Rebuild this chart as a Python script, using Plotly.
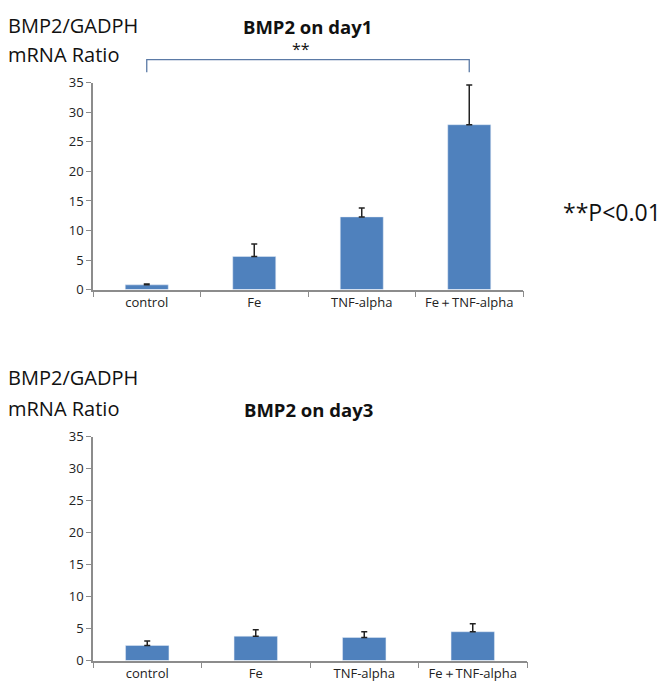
import plotly.graph_objects as go

categories = ["control", "Fe", "TNF-alpha", "Fe＋TNF-alpha"]
day1_values = [0.8, 5.6, 12.3, 27.9]
day1_errors = [0.15, 2.1, 1.5, 6.7]
day3_values = [2.35, 3.8, 3.6, 4.5]
day3_errors = [0.7, 1.0, 0.9, 1.25]
y_ticks = [0, 5, 10, 15, 20, 25, 30, 35]

W, H = 666, 700
BAR = "#4f81bd"
AXIS = "#8c8c8c"
FONT = "Open Sans"

def px_x(p):
    return p / W

def px_y(p):
    return 1 - p / H

fig = go.Figure()
fig.add_trace(go.Bar(x=categories, y=day1_values, marker_color=BAR, width=0.4,
                     error_y=dict(type="data", array=day1_errors, arrayminus=[0]*4, symmetric=False,
                                  color="#222222", thickness=1.5, width=3),
                     xaxis="x", yaxis="y", showlegend=False))
fig.add_trace(go.Bar(x=categories, y=day3_values, marker_color=BAR, width=0.4,
                     error_y=dict(type="data", array=day3_errors, arrayminus=[0]*4, symmetric=False,
                                  color="#222222", thickness=1.5, width=3),
                     xaxis="x2", yaxis="y2", showlegend=False))

xcommon = dict(type="category", showline=True, linecolor=AXIS, linewidth=1.5, ticks="outside",
               tickson="boundaries", ticklen=6, tickcolor=AXIS, showgrid=False,
               tickfont=dict(family=FONT, size=13, color="#222"), zeroline=False)
ycommon = dict(range=[0, 35], tickvals=y_ticks, showline=True, linecolor=AXIS, linewidth=1.5,
               ticks="outside", ticklen=5, tickcolor=AXIS, showgrid=False, zeroline=False,
               tickfont=dict(family=FONT, size=13, color="#222"))

fig.update_layout(
    width=W, height=H, margin=dict(l=0, r=0, t=0, b=0),
    paper_bgcolor="white", plot_bgcolor="white", bargap=0.6,
    xaxis=dict(domain=[px_x(93), px_x(523)], anchor="y", **xcommon),
    yaxis=dict(domain=[px_y(288), px_y(75.7)], anchor="x", **ycommon),
    xaxis2=dict(domain=[px_x(93), px_x(527)], anchor="y2", **xcommon),
    yaxis2=dict(domain=[px_y(668.7), px_y(439)], anchor="x2", **ycommon),
)

# significance bracket
fig.add_shape(type="path", xref="x", yref="paper",
              path=f"M 0,{px_y(65)} L 0,{px_y(52)} L 3,{px_y(52)} L 3,{px_y(65)}",
              line=dict(color="#5b7aa6", width=1.3))

ann = [
    dict(text="BMP2/GADPH", x=px_x(6), y=px_y(17), xanchor="left", size=20),
    dict(text="mRNA Ratio", x=px_x(6), y=px_y(47), xanchor="left", size=20),
    dict(text="<b>BMP2 on day1</b>", x=px_x(307), y=px_y(18), xanchor="center", size=18.5),
    dict(text="**", x=px_x(301), y=px_y(41), xanchor="center", size=16),
    dict(text="**P<0.01", x=px_x(561), y=px_y(208), xanchor="left", size=23),
    dict(text="BMP2/GADPH", x=px_x(6), y=px_y(378), xanchor="left", size=20),
    dict(text="mRNA Ratio", x=px_x(6), y=px_y(410), xanchor="left", size=20),
    dict(text="<b>BMP2 on day3</b>", x=px_x(308), y=px_y(411), xanchor="center", size=18.5),
]
for a in ann:
    fig.add_annotation(text=a["text"], x=a["x"], y=a["y"], xref="paper", yref="paper",
                       xanchor=a["xanchor"], yanchor="middle", showarrow=False,
                       font=dict(family=FONT, size=a["size"], color="#111"))

fig.write_html("out.html", config={"displayModeBar": False},
               post_script="document.body.style.margin='0';document.body.style.overflow='hidden';")
